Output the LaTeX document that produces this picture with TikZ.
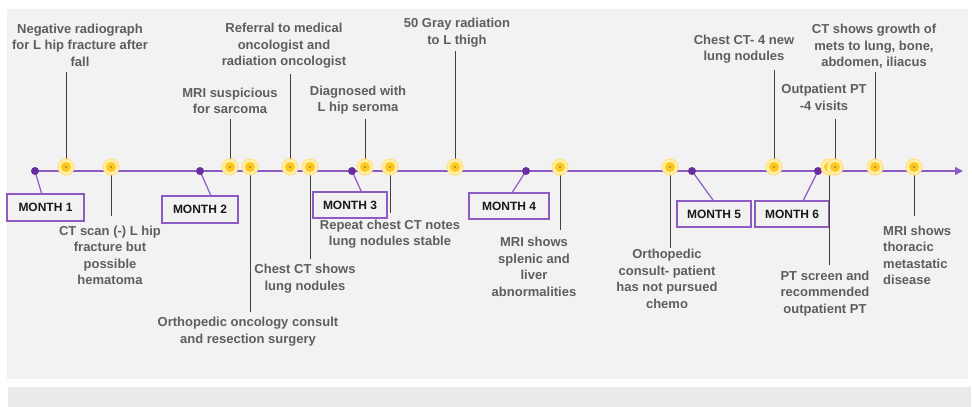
\documentclass[tikz,border=0pt]{standalone}
\usepackage{fontspec}
\setmainfont{Liberation Sans}
\usetikzlibrary{arrows.meta,calc}
\definecolor{panel}{HTML}{F2F2F2}
\definecolor{strip}{HTML}{EAEAEA}
\definecolor{pline}{HTML}{8E5BC4}
\definecolor{pdot}{HTML}{6A2D9F}
\definecolor{evtxt}{HTML}{5E5E5E}
\definecolor{ringc}{HTML}{FFE27A}
\definecolor{ringfill}{HTML}{FFEFA8}
\definecolor{goldc}{HTML}{FFC81E}
\tikzset{
  evlabel/.style={font=\bfseries\fontsize{13}{16.5}\selectfont, text=evtxt, align=center, inner sep=0pt},
  evlabelL/.style={evlabel, align=left, anchor=west},
  leader/.style={draw=black!75, line width=1pt},
  ystar/.style={circle, minimum size=16pt, inner sep=0pt, fill=ringfill, draw=ringc, line width=1pt,
    path picture={\fill[goldc] (path picture bounding box.center) circle (5pt);
                  \fill[black!60] (path picture bounding box.center) circle (0.8pt);}},
  mdot/.style={circle, minimum size=8pt, inner sep=0pt, fill=pdot},
  mbox/.style={draw=pline, line width=1.2pt, minimum width=75pt, minimum height=26pt, inner sep=0pt,
    font=\bfseries\fontsize{12}{14}\selectfont, text=black!90},
  mlink/.style={draw=pline, line width=1.2pt},
  axisline/.style={draw=pline, line width=1.5pt, -{Triangle[length=8pt,width=8pt]}}
}
\begin{document}
\begin{tikzpicture}[x=1pt,y=-1pt]
\useasboundingbox (0,0) rectangle (972,407);
\fill[white] (0,0) rectangle (972,407);
\fill[panel] (7,9) rectangle (968,379);
\fill[strip] (8,387) rectangle (971,407);

% axis
\coordinate (astart) at (35,171);
\coordinate (aend) at (963,171);
\draw[axisline] (astart) -- (aend);

% month boxes
\node[mbox, minimum width=77pt, minimum height=27pt] (m1) at (45.5,207.5) {MONTH 1};
\node[mbox, minimum width=76pt, minimum height=27pt] (m2) at (200,209.5) {MONTH 2};
\node[mbox, minimum width=74pt] (m3) at (350,205) {MONTH 3};
\node[mbox, minimum width=80pt] (m4) at (509,206) {MONTH 4};
\node[mbox, minimum width=74pt] (m5) at (714,214) {MONTH 5};
\node[mbox, minimum width=74pt] (m6) at (792,214) {MONTH 6};

\coordinate (d1) at (35,171);
\coordinate (d2) at (200,171);
\coordinate (d3) at (352,171);
\coordinate (d4) at (526,171);
\coordinate (d5) at (692,171);
\coordinate (d6) at (818,171);
\draw[mlink] (d1) -- ($(m1.north west)!0.45!(m1.north east)$);
\draw[mlink] (d2) -- ($(m2.north west)!0.64!(m2.north east)$);
\draw[mlink] (d3) -- ($(m3.north west)!0.65!(m3.north east)$);
\draw[mlink] (d4) -- ($(m4.north west)!0.54!(m4.north east)$);
\draw[mlink] (d5) -- ($(m5.north west)!0.49!(m5.north east)$);
\draw[mlink] (d6) -- ($(m6.north west)!0.65!(m6.north east)$);
\foreach \d in {d1,d2,d3,d4,d5,d6} \node[mdot] at (\d) {};

% event leaders
\coordinate (e1) at (66,167);   \coordinate (t1) at (66,72);
\coordinate (e2) at (111,167);  \coordinate (t2) at (111,216);
\coordinate (e3) at (230,167);  \coordinate (t3) at (230,119);
\coordinate (e4) at (250,167);  \coordinate (t4) at (250,312);
\coordinate (e5) at (290,167);  \coordinate (t5) at (290,74);
\coordinate (e6) at (310,167);  \coordinate (t6) at (310,259);
\coordinate (e7) at (365,167);  \coordinate (t7) at (365,119);
\coordinate (e8) at (390,167);  \coordinate (t8) at (390,213);
\coordinate (e9) at (455,167);  \coordinate (t9) at (455,51);
\coordinate (e10) at (560,167); \coordinate (t10) at (560,230);
\coordinate (e11) at (670,167); \coordinate (t11) at (670,248);
\coordinate (e12) at (774,167); \coordinate (t12) at (774,70);
\coordinate (e13) at (829,167); \coordinate (t13) at (829,265);
\coordinate (e14) at (835,167); \coordinate (t14) at (835,119);
\coordinate (e15) at (875,167); \coordinate (t15) at (875,72);
\coordinate (e16) at (914,167); \coordinate (t16) at (914,216);
\foreach \i in {1,...,16} \draw[leader] (e\i) -- (t\i);
\foreach \i in {1,...,16} \node[ystar] (y\i) at (e\i) {};

% event texts
\node[evlabel] (l1) at (80,45) {Negative radiograph\\for L hip fracture after\\fall};
\node[evlabel] (l2) at (110,255.5) {CT scan (-) L hip\\fracture but\\possible\\hematoma};
\node[evlabel] (l3) at (230,101) {MRI suspicious\\for sarcoma};
\node[evlabel] (l4) at (248,331.5) {Orthopedic oncology consult\\and resection surgery};
\node[evlabel] (l5) at (284,46) {Referral to medical\\oncologist and\\radiation oncologist};
\node[evlabel] (l6) at (305,278.5) {Chest CT shows\\lung nodules};
\node[evlabel] (l7) at (358,100) {Diagnosed with\\L hip seroma};
\node[evlabel] (l8) at (390,234) {Repeat chest CT notes\\lung nodules stable};
\node[evlabel] (l9) at (457,32.5) {50 Gray radiation\\to L thigh};
\node[evlabel] (l10) at (534,267) {MRI shows\\splenic and\\liver\\abnormalities};
\node[evlabel] (l11) at (667,279) {Orthopedic\\consult- patient\\has not pursued\\chemo};
\node[evlabel] (l12) at (744,49) {Chest CT- 4 new\\lung nodules};
\node[evlabel] (l13) at (825,293.5) {PT screen and\\recommended\\outpatient PT};
\node[evlabel] (l14) at (824,97.5) {Outpatient PT\\-4 visits};
\node[evlabel] (l15) at (874,46.5) {CT shows growth of\\mets to lung, bone,\\abdomen, iliacus};
\node[evlabelL] (l16) at (883,255.5) {MRI shows\\thoracic\\metastatic\\disease};
\end{tikzpicture}
\end{document}
